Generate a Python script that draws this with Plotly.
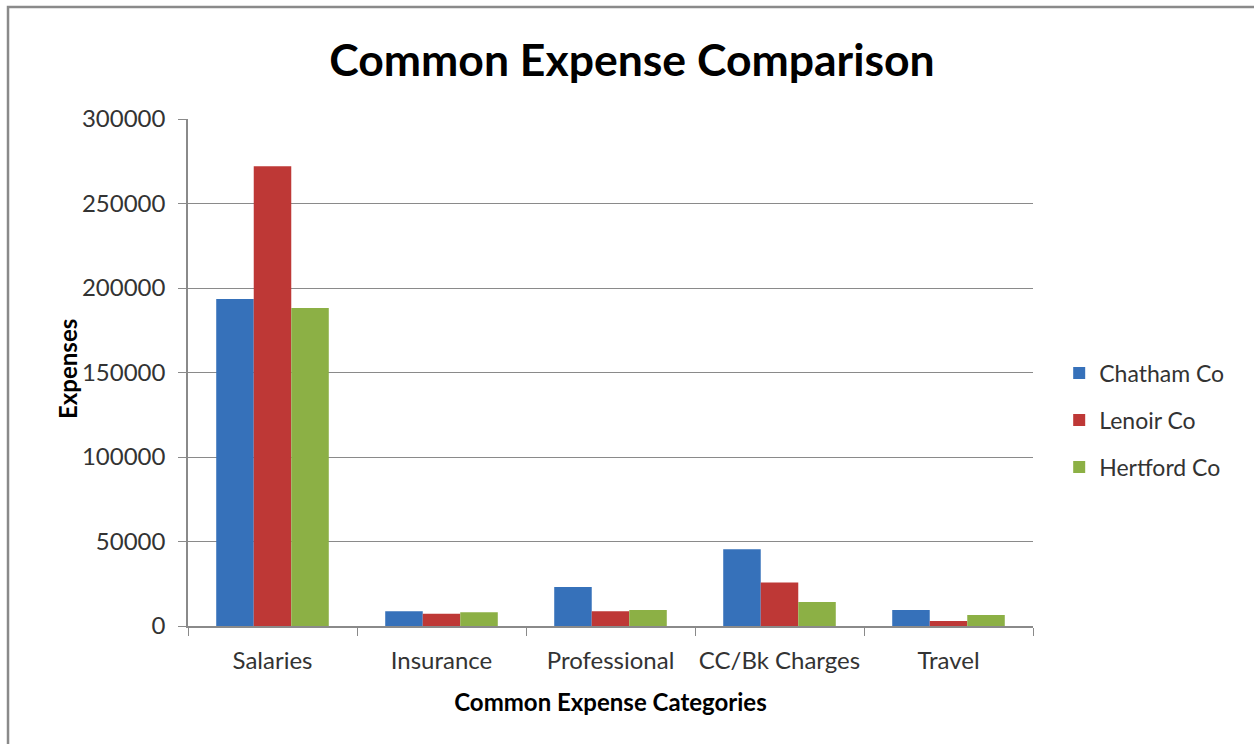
import plotly.graph_objects as go

categories = ["Salaries", "Insurance", "Professional", "CC/Bk Charges", "Travel"]
chatham = [193500, 8700, 23100, 45400, 9500]
lenoir = [272000, 7300, 8700, 25700, 3000]
hertford = [188200, 8100, 9500, 14200, 6500]

series = [
    ("Chatham Co", chatham, "#3671BA"),
    ("Lenoir Co", lenoir, "#BE3836"),
    ("Hertford Co", hertford, "#8CB045"),
]

FONT = "Lato"

fig = go.Figure()
for name, vals, color in series:
    fig.add_trace(go.Bar(
        name=name, x=categories, y=vals,
        marker=dict(color=color, line=dict(width=0)),
        legendgroup=name,
    ))

# outer chart frame
fig.add_shape(type="rect", xref="paper", yref="paper",
              x0=-0.213, x1=1.4, y0=-0.4, y1=1.221,
              line=dict(color="#8a8a8a", width=2.5), fillcolor="rgba(0,0,0,0)",
              layer="below")

# vertical axis title, set close to the tick labels
fig.add_annotation(text="<b>Expenses</b>", xref="paper", yref="paper",
                   x=-0.142, y=0.507, xanchor="center", yanchor="middle",
                   textangle=-90, showarrow=False,
                   font=dict(family=FONT, size=24, color="#000000"))

fig.update_layout(
    width=1254, height=744,
    margin=dict(l=188, r=221, t=119, b=118, autoexpand=False),
    paper_bgcolor="white", plot_bgcolor="white",
    barmode="group", bargap=0.334, bargroupgap=0,
    title=dict(text="<b>Common Expense Comparison</b>", x=0.504, xanchor="center",
               y=0.919, yanchor="middle",
               font=dict(family=FONT, size=44.5, color="#000000")),
    font=dict(family=FONT, color="#333333"),
    legend=dict(x=1.031, xanchor="left", y=0.406, yanchor="middle",
                font=dict(family=FONT, size=23, color="#333333"),
                tracegroupgap=14, itemwidth=30),
    xaxis=dict(
        automargin=False, tickangle=0,
        showline=True, linecolor="#8a8a8a", linewidth=1.5,
        ticks="outside", tickson="boundaries", ticklen=8, tickcolor="#8a8a8a",
        ticklabelstandoff=12,
        tickfont=dict(family=FONT, size=24, color="#333333"),
        title=dict(text="<b>Common Expense Categories</b>", standoff=22,
                   font=dict(family=FONT, size=24, color="#000000")),
    ),
    yaxis=dict(
        automargin=False,
        range=[0, 300000], dtick=50000, tickformat="d",
        showline=True, linecolor="#8a8a8a", linewidth=1.5,
        showgrid=True, gridcolor="#8a8a8a", gridwidth=1,
        ticks="outside", ticklen=8, tickcolor="#8a8a8a",
        ticklabelstandoff=8,
        tickfont=dict(family=FONT, size=24, color="#333333"),
        zeroline=False,
    ),
)

fig.write_html("out.html")
